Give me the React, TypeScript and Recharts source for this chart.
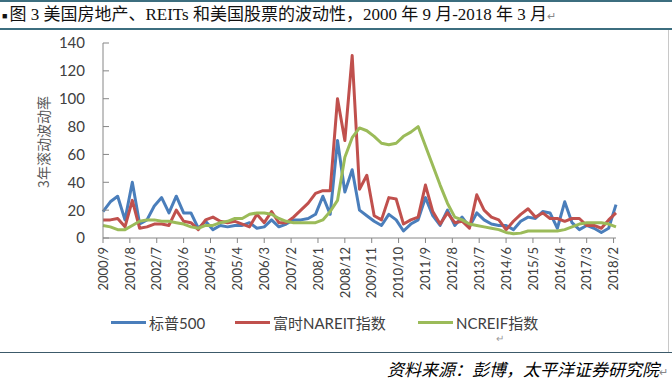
import React from "react"
import { LineChart, Line, XAxis, YAxis } from "recharts"

// month labels shown on the axis (every 11 months from 2000/9)
const tickLabels = [
  "2000/9", "2001/8", "2002/7", "2003/6", "2004/5", "2005/4", "2006/3",
  "2007/2", "2008/1", "2008/12", "2009/11", "2010/10", "2011/9", "2012/8",
  "2013/7", "2014/6", "2015/5", "2016/4", "2017/3", "2018/2",
]

// quarterly readings, 2000/9 .. 2018/3
const sp500 = [
  19, 26, 30, 13, 40, 10, 13, 23, 29, 18,
  30, 18, 18, 7, 12, 6, 9, 8, 9, 9,
  11, 7, 8, 13, 8, 10, 13, 13, 14, 17,
  30, 17, 70, 33, 49, 20, 16, 12, 9, 17,
  13, 5, 10, 13, 29, 16, 9, 20, 9, 15,
  8, 18, 13, 10, 9, 9, 6, 12, 15, 14,
  19, 18, 7, 26, 11, 6, 9, 7, 4, 7,
  24,
]
const nareit = [
  13, 13, 14, 8, 27, 7, 8, 10, 10, 9,
  20, 12, 11, 6, 13, 15, 12, 11, 12, 10,
  8, 17, 11, 19, 11, 11, 15, 20, 25, 32,
  34, 34, 100, 70, 131, 35, 45, 16, 13, 29,
  28, 10, 13, 15, 38, 19, 10, 18, 11, 12,
  7, 31, 20, 15, 13, 6, 12, 17, 21, 15,
  18, 14, 14, 12, 14, 14, 9, 9, 7, 13,
  18,
]
const ncreif = [
  9, 8, 6, 6, 9, 12, 13, 13, 12, 12,
  11, 10, 8, 7, 9, 9, 11, 12, 14, 14,
  17, 18, 18, 17, 14, 12, 11, 11, 11, 11,
  13, 19, 27, 58, 72, 79, 77, 73, 68, 67,
  68, 73, 76, 80, 66, 52, 38, 25, 15, 13,
  10, 9, 8, 7, 6, 4, 3, 3.5, 5, 5,
  5, 5, 5, 6, 8, 10, 11, 11, 11, 10,
  8,
]
const yTicks = [0, 20, 40, 60, 80, 100, 120, 140]

const data = sp500.map((v, i) => ({
  m: i * 3,
  sp500: v,
  nareit: nareit[i],
  ncreif: ncreif[i],
}))
const monthTicks = tickLabels.map((_, i) => i * 11)

const BLUE = "#4A7EBB"
const RED = "#C0504D"
const GREEN = "#9BBB59"
const AXIS = "#868686"
const TEXT = "#404040"

function XTick(props: any) {
  const { x, y, payload } = props
  const label = tickLabels[monthTicks.indexOf(payload.value)]
  return (
    <text
      transform={`translate(${x},${y}) rotate(-90)`}
      textAnchor="end"
      dy="0.36em"
      fontSize={13}
      fontFamily="Lato, sans-serif"
      fill={TEXT}
    >
      {label}
    </text>
  )
}

function YTick(props: any) {
  const { x, y, payload } = props
  // x is text anchor (axis - tickSize - tickMargin)
  return (
    <g>
      <line x1={x + 7} x2={x + 13} y1={y} y2={y} stroke={AXIS} />
      <text x={x - 11} y={y} dy="0.36em" textAnchor="end" fontSize={15} fontFamily="Lato, sans-serif" fill={TEXT}>
        {payload.value}
      </text>
    </g>
  )
}

const legendItems = [
  { name: "标普500", color: BLUE, left: 111, width: 35 },
  { name: "富时NAREIT指数", color: RED, left: 235, width: 35 },
  { name: "NCREIF指数", color: GREEN, left: 418, width: 35 },
]

export default function App() {
  return (
    <div
      style={{
        position: "absolute",
        left: 0,
        top: 0,
        width: 672,
        height: 380,
        background: "#fff",
        overflow: "hidden",
      }}
    >
      <div style={{ position: "absolute", left: 0, top: 0, width: 672, height: 2, background: "#3c6e7f" }} />
      <div
        style={{
          position: "absolute",
          left: 2,
          top: 4,
          whiteSpace: "nowrap",
          fontSize: 17,
          lineHeight: "22px",
          color: "#111",
          fontFamily: "'Liberation Serif', 'Noto Sans CJK SC', serif",
        }}
      >
        <span style={{ fontSize: 9, verticalAlign: "middle", marginRight: 2 }}>■</span>
        图 3 美国房地产、REITs 和美国股票的波动性，2000 年 9 月-2018 年 3 月
        <span style={{ fontSize: 11, color: "#888" }}>↵</span>
      </div>
      <div style={{ position: "absolute", left: 0, top: 28, width: 672, height: 2, background: "#3c6e7f" }} />
      <div style={{ position: "absolute", left: 668, top: 30, width: 1, height: 322, background: "#c8c8c8" }} />

      <div
        style={{
          position: "absolute",
          left: 43,
          top: 142,
          transform: "translate(-50%, -50%) rotate(-90deg)",
          whiteSpace: "nowrap",
          fontSize: 14,
          color: "#595959",
          fontFamily: "'Noto Sans CJK SC', sans-serif",
        }}
      >
        3年滚动波动率
      </div>

      <div style={{ position: "absolute", left: 0, top: 0 }}>
        <LineChart
          width={672}
          height={300}
          data={data}
          margin={{ top: 43, right: 56, bottom: 0, left: 0 }}
        >
          <XAxis
            dataKey="m"
            type="number"
            domain={[0, 210]}
            ticks={monthTicks}
            interval={0}
            height={62}
            tick={<XTick />}
            tickSize={5}
            tickMargin={4}
            stroke={AXIS}
          />
          <YAxis
            domain={[0, 140]}
            ticks={yTicks}
            interval={0}
            width={103}
            tickSize={5}
            tickMargin={2}
            tickLine={false}
            tick={<YTick />}
            stroke={AXIS}
          />
          <Line dataKey="sp500" stroke={BLUE} strokeWidth={3} dot={false} isAnimationActive={false} strokeLinejoin="round" />
          <Line dataKey="nareit" stroke={RED} strokeWidth={3} dot={false} isAnimationActive={false} strokeLinejoin="round" />
          <Line dataKey="ncreif" stroke={GREEN} strokeWidth={3} dot={false} isAnimationActive={false} strokeLinejoin="round" />
        </LineChart>
      </div>

      {legendItems.map((it) => (
        <div
          key={it.name}
          style={{
            position: "absolute",
            left: it.left,
            top: 312,
            height: 20,
            display: "flex",
            alignItems: "center",
            whiteSpace: "nowrap",
          }}
        >
          <span style={{ display: "inline-block", width: it.width, height: 3, background: it.color, marginRight: 3 }} />
          <span style={{ fontSize: 15, color: TEXT, fontFamily: "Lato, 'Noto Sans CJK SC', sans-serif" }}>{it.name}</span>
        </div>
      ))}
      <div style={{ position: "absolute", left: 496, top: 333, fontSize: 10, color: "#999" }}>↵</div>

      <div style={{ position: "absolute", left: 0, top: 352, width: 672, height: 1, background: "#3c5a6a" }} />
      <div
        style={{
          position: "absolute",
          right: 4,
          top: 356,
          whiteSpace: "nowrap",
          fontSize: 17,
          fontStyle: "italic",
          color: "#000",
          fontFamily: "'Noto Sans CJK SC', sans-serif",
        }}
      >
        资料来源：彭博，太平洋证券研究院
        <span style={{ fontSize: 11, color: "#888", fontStyle: "normal" }}>↵</span>
      </div>
    </div>
  )
}
